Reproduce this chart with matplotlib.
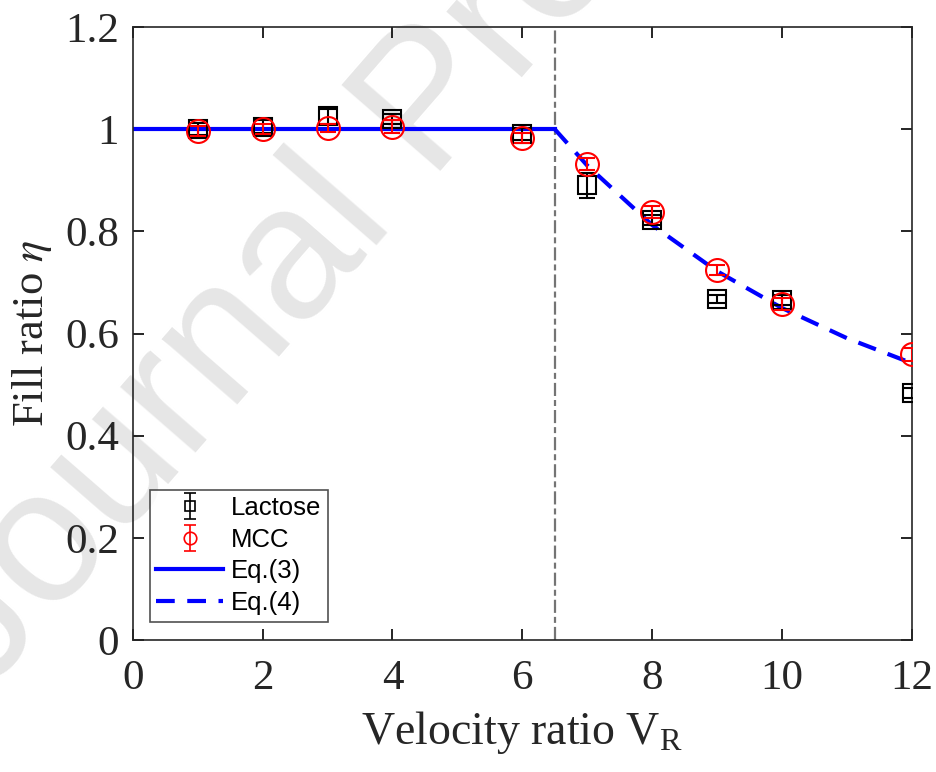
"""Fill ratio versus velocity ratio, lactose and MCC against Eq.(3)/(4)."""

import matplotlib
matplotlib.use("Agg")
import matplotlib.pyplot as plt

plt.rcParams["mathtext.fontset"] = "stix"

# measured points
vr = [1, 2, 3, 4, 6, 7, 8, 9, 10, 12]
lactose = [1.000, 1.005, 1.025, 1.020, 0.990, 0.890, 0.822, 0.668, 0.665, 0.483]
lactose_err = [0.012, 0.012, 0.015, 0.010, 0.012, 0.025, 0.010, 0.008, 0.010, 0.010]
mcc = [0.997, 1.000, 1.003, 1.005, 0.982, 0.932, 0.838, 0.724, 0.658, 0.559]
mcc_err = [0.010, 0.010, 0.008, 0.012, 0.010, 0.012, 0.012, 0.010, 0.012, 0.012]

# model curves
eq3_x = [0, 6.5]
eq3_y = [1.0, 1.0]
eq4_x = [6.5, 7, 8, 9, 10, 11, 12]
eq4_y = [1.0, 0.929, 0.8125, 0.722, 0.650, 0.591, 0.542]
vr_crit = 6.5

fig = plt.figure(figsize=(9.36, 7.72), dpi=100)
ax = fig.add_axes([0.142, 0.171, 0.832, 0.794])
ax.patch.set_alpha(0)

# "Journal Pre-proof" watermark
ax.text(-0.014, 0.102, "Journal Pre-proof", transform=fig.transFigure,
        rotation=49, rotation_mode="anchor", fontsize=137, color="#e6e6e6",
        family="Liberation Sans", ha="left", va="baseline", zorder=0,
        clip_on=False)

ax.axvline(vr_crit, color="#747474", linestyle=(0, (5.9, 1.8, 2.7, 1.8)),
           linewidth=1.6, zorder=1)
ax.plot(eq3_x, eq3_y, color="blue", linewidth=3, label="Eq.(3)", zorder=2)
ax.plot(eq4_x, eq4_y, color="blue", linewidth=3, linestyle=(0, (4.5, 3)),
        label="Eq.(4)", zorder=2)
ax.errorbar(vr, lactose, yerr=lactose_err, fmt="s", color="black",
            markerfacecolor="none", markersize=13, markeredgewidth=1.5,
            elinewidth=1.5, capsize=6, capthick=1.5, zorder=3)
ax.errorbar(vr, mcc, yerr=mcc_err, fmt="o", color="red",
            markerfacecolor="none", markersize=16.5, markeredgewidth=1.5,
            elinewidth=1.5, capsize=6, capthick=1.5, zorder=4)

# smaller copies for the legend only
h_lac = ax.errorbar([float("nan")], [float("nan")], yerr=[0.01], fmt="s",
                    color="black", markerfacecolor="none", markersize=7.5,
                    markeredgewidth=1.2, elinewidth=1.2, capsize=4, capthick=1.2,
                    label="Lactose")
h_mcc = ax.errorbar([float("nan")], [float("nan")], yerr=[0.01], fmt="o",
                    color="red", markerfacecolor="none", markersize=9,
                    markeredgewidth=1.2, elinewidth=1.2, capsize=4, capthick=1.2,
                    label="MCC")

ax.set_xlim(0, 12)
ax.set_ylim(0, 1.2)
ax.set_xticks(range(0, 13, 2))
ax.set_yticks([0, 0.2, 0.4, 0.6, 0.8, 1.0, 1.2])
ax.set_yticklabels(["0", "0.2", "0.4", "0.6", "0.8", "1", "1.2"])
ax.tick_params(direction="in", length=8, width=1.2, top=True, right=True,
               labelsize=31)
ax.tick_params(axis="x", pad=14)
ax.tick_params(axis="y", pad=10)
for lab in ax.get_xticklabels() + ax.get_yticklabels():
    lab.set_family("Liberation Serif")
    lab.set_color("#262626")
for sp in ax.spines.values():
    sp.set_linewidth(1.2)
    sp.set_color("#262626")

ax.set_xlabel(r"Velocity ratio V$_\mathregular{R}$", fontsize=33,
              family="Liberation Serif", color="#262626", labelpad=8)
ax.set_ylabel(r"Fill ratio $\eta$", fontsize=32, family="Liberation Serif",
              color="#262626", labelpad=8)

handles, labels = ax.get_legend_handles_labels()
order = [labels.index(n) for n in ["Lactose", "MCC", "Eq.(3)", "Eq.(4)"]]
leg = ax.legend([handles[i] for i in order], [labels[i] for i in order],
                loc="lower left", bbox_to_anchor=(0.022, 0.03),
                prop={"family": "Liberation Sans", "size": 18.5},
                frameon=True, fancybox=False, edgecolor="#262626",
                handlelength=2.6, handletextpad=0.3, borderpad=0.25,
                labelspacing=0.3, borderaxespad=0.0)
leg.get_frame().set_linewidth(1.2)

fig.savefig("out.png", dpi=100)
